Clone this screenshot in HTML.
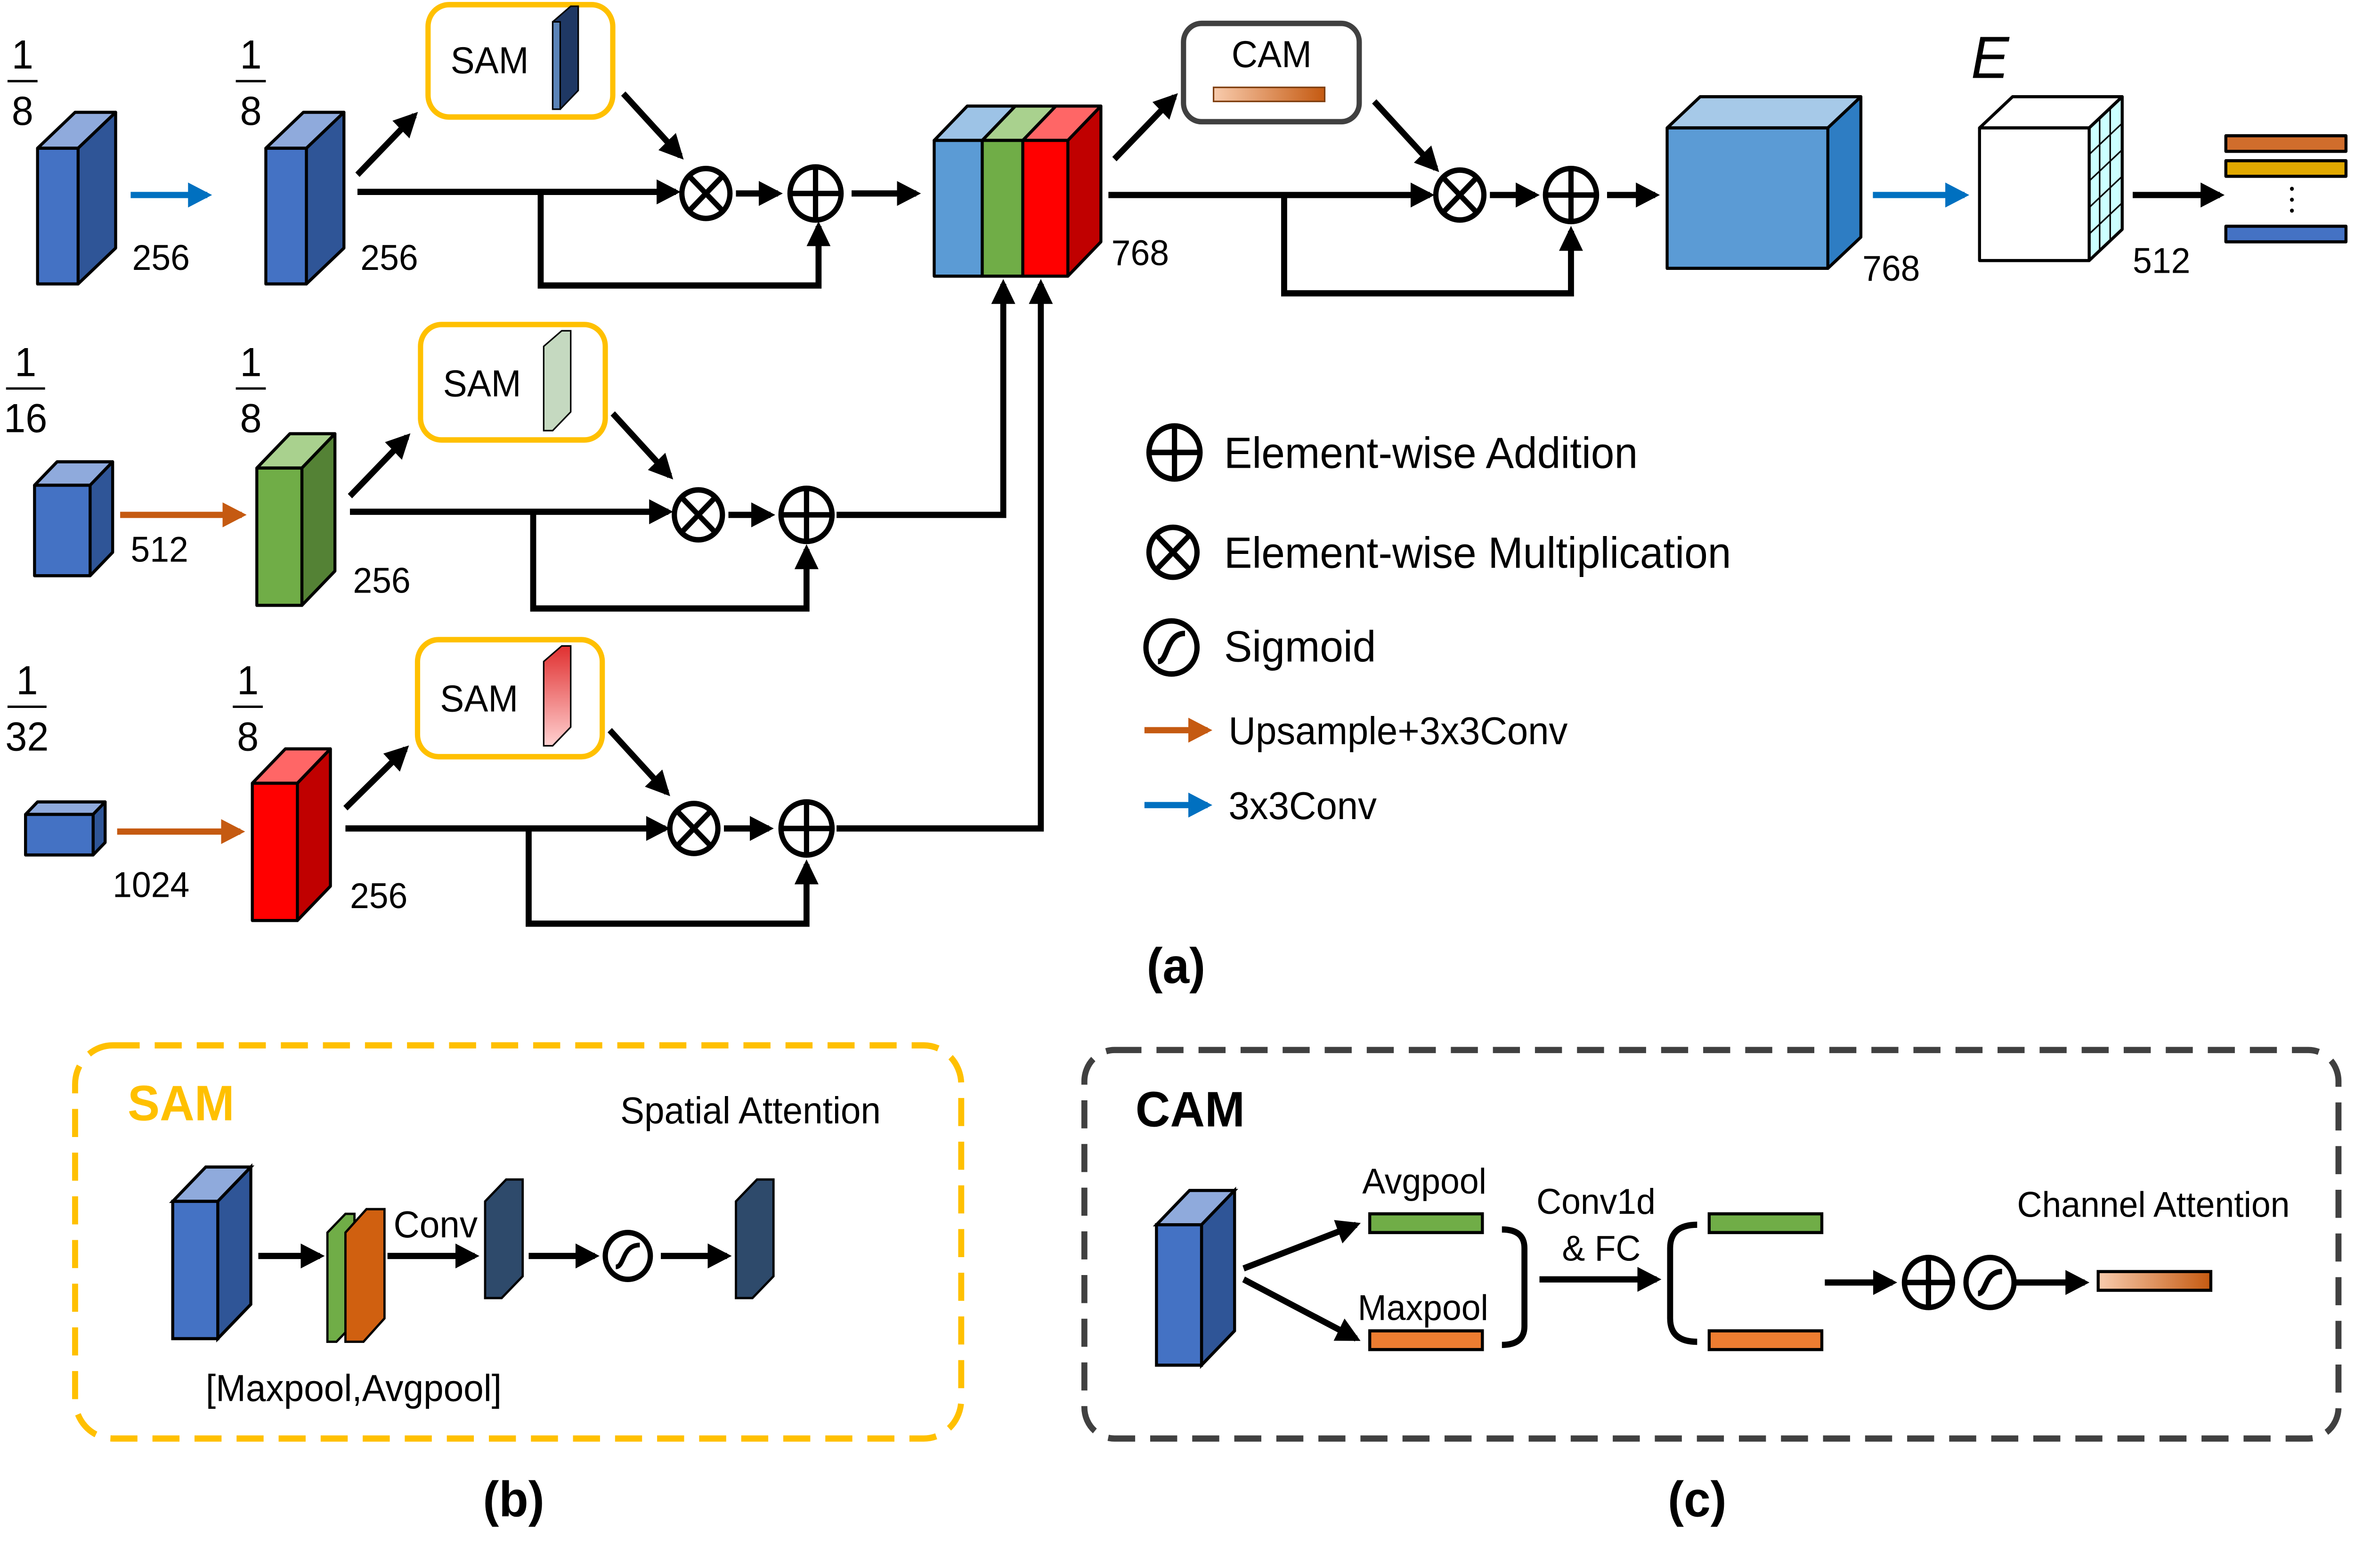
<!DOCTYPE html>
<html><head><meta charset="utf-8"><style>
html,body{margin:0;padding:0;background:#fff;overflow:hidden;width:100%;height:100%;}
svg{display:block;width:100vw;height:100vh;}
text{font-family:"Liberation Sans",sans-serif;}
</style></head><body>
<svg viewBox="0 0 1568 1005" preserveAspectRatio="none" xmlns="http://www.w3.org/2000/svg">
<defs>
<marker id="ak" viewBox="0 0 10 10" refX="8" refY="5" markerWidth="4" markerHeight="4" orient="auto"><path d="M0,0L10,5L0,10z" fill="#000"/></marker>
<marker id="ab" viewBox="0 0 10 10" refX="8" refY="5" markerWidth="4" markerHeight="4" orient="auto"><path d="M0,0L10,5L0,10z" fill="#0070c0"/></marker>
<marker id="ao" viewBox="0 0 10 10" refX="8" refY="5" markerWidth="4" markerHeight="4" orient="auto"><path d="M0,0L10,5L0,10z" fill="#c55a11"/></marker>
<linearGradient id="go" x1="0" x2="1"><stop offset="0" stop-color="#f8cbad"/><stop offset="1" stop-color="#c55a11"/></linearGradient>
<linearGradient id="gr" x1="0" x2="0" y1="0" y2="1"><stop offset="0" stop-color="#e03030"/><stop offset="1" stop-color="#ffd0d0"/></linearGradient>
</defs>
<g stroke="#000" stroke-width="2" stroke-linejoin="round">
<polygon points="25,95 52,95 77,72 50,72" fill="#8faadc"/><polygon points="52,95 77,72 77,159 52,182" fill="#2f5597"/><rect x="25" y="95" width="27" height="87" fill="#4472c4"/>
<polygon points="177,95 204,95 229,72 202,72" fill="#8faadc"/><polygon points="204,95 229,72 229,159 204,182" fill="#2f5597"/><rect x="177" y="95" width="27" height="87" fill="#4472c4"/>
<polygon points="622,90 654,90 676,68 644,68" fill="#9dc3e6"/><rect x="622" y="90" width="32" height="87" fill="#5b9bd5"/>
<polygon points="654,90 681,90 703,68 676,68" fill="#a9d18e"/><rect x="654" y="90" width="27" height="87" fill="#70ad47"/>
<polygon points="681,90 711,90 733,68 703,68" fill="#ff6666"/><polygon points="711,90 733,68 733,155 711,177" fill="#c00000"/><rect x="681" y="90" width="30" height="87" fill="#ff0000"/>
<polygon points="1110,82 1217,82 1239,62 1132,62" fill="#a6c9e8"/><polygon points="1217,82 1239,62 1239,152 1217,172" fill="#2e7dc3"/><rect x="1110" y="82" width="107" height="90" fill="#5b9bd5"/>
<polygon points="1318,82 1391,82 1413,62 1340,62" fill="#fff"/><polygon points="1391,82 1413,62 1413,147 1391,167" fill="#ccffff"/><rect x="1318" y="82" width="73" height="85" fill="#fff"/>
<g stroke-width="1"><line x1="1398" y1="76" x2="1398" y2="161"/><line x1="1405" y1="70" x2="1405" y2="154"/>
<line x1="1391" y1="99" x2="1413" y2="79"/><line x1="1391" y1="116" x2="1413" y2="96"/><line x1="1391" y1="133" x2="1413" y2="113"/><line x1="1391" y1="150" x2="1413" y2="130"/></g>
<rect x="1482" y="87" width="80" height="10" fill="#d06d2c"/><rect x="1482" y="103" width="80" height="10" fill="#e0a800"/><rect x="1482" y="145" width="80" height="10" fill="#4472c4"/>
<polygon points="23,311 60,311 75,296 38,296" fill="#8faadc"/><polygon points="60,311 75,296 75,354 60,369" fill="#2f5597"/><rect x="23" y="311" width="37" height="58" fill="#4472c4"/>
<polygon points="171,300 201,300 223,278 193,278" fill="#a9d18e"/><polygon points="201,300 223,278 223,366 201,388" fill="#548235"/><rect x="171" y="300" width="30" height="88" fill="#70ad47"/>
<polygon points="17,522 62,522 70,514 25,514" fill="#8faadc"/><polygon points="62,522 70,514 70,540 62,548" fill="#2f5597"/><rect x="17" y="522" width="45" height="26" fill="#4472c4"/>
<polygon points="168,502 198,502 220,480 190,480" fill="#ff6666"/><polygon points="198,502 220,480 220,568 198,590" fill="#c00000"/><rect x="168" y="502" width="30" height="88" fill="#ff0000"/>
</g>
<g fill="#fff" stroke="#ffc000" stroke-width="3.5">
<rect x="285" y="3" width="123" height="72" rx="14"/><rect x="280" y="208" width="123" height="74" rx="14"/><rect x="278" y="410" width="123" height="75" rx="14"/>
</g>
<g stroke="#000" stroke-width="1">
<polygon points="368,14 380,4 385,4 385,58 373,70 368,70" fill="#1f3864"/><polygon points="368,14 373,14 373,70 368,70" fill="#5b84b8"/>
<polygon points="362,222 374,212 380,212 380,264 368,276 362,276" fill="#c5d9c0"/>
<polygon points="362,424 374,414 380,414 380,466 368,478 362,478" fill="url(#gr)"/>
</g>
<g font-size="24" fill="#000"><text x="300" y="47">SAM</text><text x="295" y="254">SAM</text><text x="293" y="456">SAM</text></g>
<rect x="788" y="15" width="117" height="63" rx="12" fill="#fff" stroke="#404040" stroke-width="3.5"/>
<text x="820" y="43" font-size="24">CAM</text>
<rect x="808" y="56" width="74" height="9" fill="url(#go)" stroke="#7f3f10" stroke-width="1"/>
<g stroke="#000" stroke-width="4" fill="none" marker-end="url(#ak)">
<line x1="238" y1="112" x2="276" y2="74"/><line x1="415" y1="60" x2="453" y2="100"/><line x1="238" y1="123" x2="450" y2="123"/>
<line x1="490" y1="124" x2="518" y2="124"/><polyline points="360,123 360,183 545,183 545,145"/><line x1="567" y1="124" x2="610" y2="124"/>
<line x1="742" y1="102" x2="782" y2="62"/><line x1="915" y1="65" x2="956" y2="108"/><line x1="738" y1="125" x2="952" y2="125"/>
<line x1="992" y1="125" x2="1022" y2="125"/><polyline points="855,125 855,188 1046,188 1046,148"/><line x1="1070" y1="125" x2="1102" y2="125"/>
<line x1="1420" y1="125" x2="1478" y2="125"/>
<line x1="233" y1="318" x2="271" y2="280"/><line x1="408" y1="265" x2="446" y2="305"/><line x1="233" y1="328" x2="445" y2="328"/>
<line x1="485" y1="330" x2="513" y2="330"/><polyline points="355,328 355,390 537,390 537,352"/><polyline points="557,330 668,330 668,182"/>
<line x1="230" y1="518" x2="270" y2="480"/><line x1="406" y1="468" x2="444" y2="508"/><line x1="230" y1="531" x2="443" y2="531"/>
<line x1="482" y1="531" x2="512" y2="531"/><polyline points="352,531 352,592 537,592 537,554"/><polyline points="557,531 693,531 693,182"/>
</g>
<g stroke-width="4" fill="none">
<line x1="87" y1="125" x2="138" y2="125" stroke="#0070c0" marker-end="url(#ab)"/>
<line x1="1247" y1="125" x2="1308" y2="125" stroke="#0070c0" marker-end="url(#ab)"/>
<line x1="80" y1="330" x2="161" y2="330" stroke="#c55a11" marker-end="url(#ao)"/>
<line x1="78" y1="533" x2="160" y2="533" stroke="#c55a11" marker-end="url(#ao)"/>
<line x1="762" y1="468" x2="804" y2="468" stroke="#c55a11" marker-end="url(#ao)"/>
<line x1="762" y1="516" x2="804" y2="516" stroke="#0070c0" marker-end="url(#ab)"/>
</g>
<g stroke="#000" stroke-width="3.5" fill="#fff">
<circle cx="470" cy="124" r="16"/><path d="M459,113L481,135M481,113L459,135"/>
<circle cx="543" cy="124" r="17"/><path d="M526,124H560M543,107V141"/>
<circle cx="972" cy="125" r="16"/><path d="M961,114L983,136M983,114L961,136"/>
<circle cx="1046" cy="125" r="17"/><path d="M1029,125H1063M1046,108V142"/>
<circle cx="465" cy="330" r="16"/><path d="M454,319L476,341M476,319L454,341"/>
<circle cx="537" cy="330" r="17"/><path d="M520,330H554M537,313V347"/>
<circle cx="462" cy="531" r="16"/><path d="M451,520L473,542M473,520L451,542"/>
<circle cx="537" cy="531" r="17"/><path d="M520,531H554M537,514V548"/>
<circle cx="782" cy="290" r="17"/><path d="M765,290H799M782,273V307"/>
<circle cx="781" cy="354" r="16"/><path d="M770,343L792,365M792,343L770,365"/>
<circle cx="780" cy="415" r="17"/><path d="M771,424C778,424 776,406 789,406" fill="none"/>
</g>
<g font-family="Liberation Serif,serif" font-size="26" text-anchor="middle">
<text x="15" y="44">1</text><line x1="5" y1="52" x2="25" y2="52" stroke="#000" stroke-width="1.5"/><text x="15" y="80">8</text>
<text x="167" y="44">1</text><line x1="157" y1="52" x2="177" y2="52" stroke="#000" stroke-width="1.5"/><text x="167" y="80">8</text>
<text x="17" y="241">1</text><line x1="4" y1="249" x2="30" y2="249" stroke="#000" stroke-width="1.5"/><text x="17" y="277">16</text>
<text x="167" y="241">1</text><line x1="157" y1="249" x2="177" y2="249" stroke="#000" stroke-width="1.5"/><text x="167" y="277">8</text>
<text x="18" y="445">1</text><line x1="5" y1="453" x2="31" y2="453" stroke="#000" stroke-width="1.5"/><text x="18" y="481">32</text>
<text x="165" y="445">1</text><line x1="155" y1="453" x2="175" y2="453" stroke="#000" stroke-width="1.5"/><text x="165" y="481">8</text>
<text x="1325" y="50" font-style="italic" font-size="38">E</text>
</g>
<g font-size="23">
<text x="88" y="173">256</text><text x="240" y="173">256</text><text x="740" y="170">768</text><text x="1240" y="180">768</text><text x="1420" y="175">512</text>
<text x="87" y="360">512</text><text x="235" y="380">256</text><text x="75" y="575">1024</text><text x="233" y="582">256</text>
</g>
<g font-size="28"><text x="815" y="300">Element-wise Addition</text><text x="815" y="364">Element-wise Multiplication</text><text x="815" y="424">Sigmoid</text></g>
<g font-size="25"><text x="818" y="477">Upsample+3x3Conv</text><text x="818" y="525">3x3Conv</text></g>
<g fill="#000"><circle cx="1526" cy="121" r="1.3"/><circle cx="1526" cy="128" r="1.3"/><circle cx="1526" cy="135" r="1.3"/></g>
<text x="783" y="630" font-size="32" font-weight="bold" text-anchor="middle">(a)</text>
<text x="342" y="972" font-size="32" font-weight="bold" text-anchor="middle">(b)</text>
<text x="1130" y="972" font-size="32" font-weight="bold" text-anchor="middle">(c)</text>
<rect x="50" y="670" width="590" height="252" rx="25" fill="none" stroke="#ffc000" stroke-width="4" stroke-dasharray="18,10"/>
<text x="85" y="718" font-size="32" font-weight="bold" fill="#ffc000">SAM</text>
<text x="413" y="720" font-size="24">Spatial Attention</text>
<g stroke="#000" stroke-width="2">
<polygon points="115,770 145,770 167,748 137,748" fill="#8faadc"/><polygon points="145,770 167,748 167,836 145,858" fill="#2f5597"/><rect x="115" y="770" width="30" height="88" fill="#4472c4"/>
<polygon points="218,790 230,778 236,778 236,848 224,860 218,860" fill="#70ad47" stroke-width="1.5"/>
<polygon points="230,790 244,775 256,775 256,845 242,860 230,860" fill="#d06010" stroke-width="1.5"/>
<polygon points="323,770 337,756 348,756 348,818 334,832 323,832" fill="#2e4a6b" stroke-width="1.5"/>
<polygon points="490,770 504,756 515,756 515,818 501,832 490,832" fill="#2e4a6b" stroke-width="1.5"/>
</g>
<g stroke="#000" stroke-width="4" marker-end="url(#ak)"><line x1="172" y1="805" x2="213" y2="805"/><line x1="258" y1="805" x2="316" y2="805"/><line x1="352" y1="805" x2="396" y2="805"/><line x1="440" y1="805" x2="484" y2="805"/></g>
<circle cx="418" cy="805" r="15" fill="#fff" stroke="#000" stroke-width="3.5"/><path d="M410,812C416,812 414,798 426,798" fill="none" stroke="#000" stroke-width="3"/>
<text x="262" y="793" font-size="24">Conv</text>
<text x="137" y="898" font-size="24">[Maxpool,Avgpool]</text>
<rect x="722" y="673" width="835" height="249" rx="20" fill="none" stroke="#404040" stroke-width="4" stroke-dasharray="18,10"/>
<text x="756" y="722" font-size="32" font-weight="bold">CAM</text>
<text x="1343" y="780" font-size="23">Channel Attention</text>
<g stroke="#000" stroke-width="2">
<polygon points="770,785 800,785 822,763 792,763" fill="#8faadc"/><polygon points="800,785 822,763 822,853 800,875" fill="#2f5597"/><rect x="770" y="785" width="30" height="90" fill="#4472c4"/>
<rect x="912" y="778" width="75" height="12" fill="#70ad47"/><rect x="912" y="853" width="75" height="12" fill="#ed7d31"/>
<rect x="1138" y="778" width="75" height="12" fill="#70ad47"/><rect x="1138" y="853" width="75" height="12" fill="#ed7d31"/>
<rect x="1397" y="815" width="75" height="12" fill="url(#go)"/>
</g>
<g stroke="#000" stroke-width="4" fill="none">
<line x1="828" y1="813" x2="903" y2="785" marker-end="url(#ak)"/><line x1="828" y1="820" x2="903" y2="858" marker-end="url(#ak)"/>
<path d="M1000,788Q1015,788 1015,800V850Q1015,862 1000,862"/>
<line x1="1025" y1="820" x2="1103" y2="820" marker-end="url(#ak)"/>
<path d="M1130,785Q1112,785 1112,800V845Q1112,860 1130,860"/>
<line x1="1215" y1="822" x2="1260" y2="822" marker-end="url(#ak)"/><line x1="1342" y1="822" x2="1388" y2="822" marker-end="url(#ak)"/>
</g>
<g stroke="#000" stroke-width="3.5" fill="#fff"><circle cx="1284" cy="822" r="16"/><path d="M1268,822H1300M1284,806V838"/>
<circle cx="1325" cy="822" r="16"/><path d="M1317,829C1323,829 1321,815 1333,815" fill="none"/></g>
<g font-size="23"><text x="907" y="765">Avgpool</text><text x="904" y="846">Maxpool</text><text x="1023" y="778">Conv1d</text><text x="1040" y="808">&amp; FC</text></g>
</svg>
</body></html>
